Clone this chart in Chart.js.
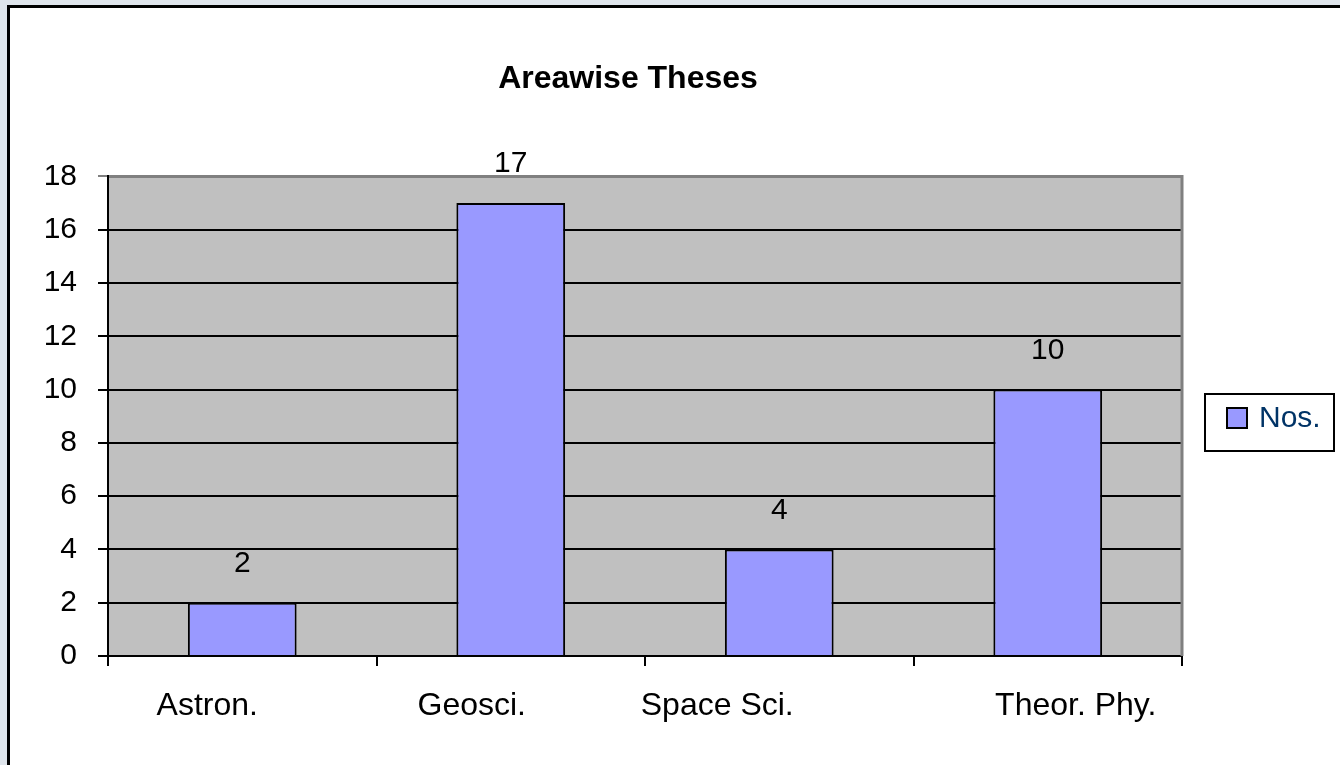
<!DOCTYPE html>
<html>
<head>
<meta charset="utf-8">
<title>Areawise Theses</title>
<script src="https://cdn.jsdelivr.net/npm/chart.js@4"></script>
<style>
    html, body {
        margin: 0;
        padding: 0;
        width: 1340px;
        height: 765px;
        overflow: hidden;
        background: #dfe5ec;
    }
    #frame {
        position: absolute;
        left: 7px;
        top: 5px;
        width: 1400px;
        height: 800px;
        border: 3px solid #000;
        background: #fff;
    }
    #areaChart {
        position: absolute;
        left: 0;
        top: 0;
    }
</style>
</head>
<body>
<div id="frame"></div>
<canvas id="areaChart" width="1340" height="765"></canvas>
<script>
// Chart data
const categories = ['Astron.', 'Geosci.', 'Space Sci.', 'Theor. Phy.'];
const nosValues = [2, 17, 4, 10];
const yTicks = [0, 2, 4, 6, 8, 10, 12, 14, 16, 18];

// the category labels in the original sit a little off the bar centres
const labelShift = [-35, -39, -62, 28];

const FONT = '"Liberation Sans", Arial, sans-serif';

// grey plot background with grey top/right edge
const plotBackground = {
    id: 'plotBackground',
    beforeDraw(chart) {
        const { ctx, chartArea: a } = chart;
        ctx.save();
        ctx.fillStyle = '#c0c0c0';
        ctx.fillRect(a.left, a.top, a.right - a.left, a.bottom - a.top);
        ctx.restore();

        // nudge the x labels
        const items = chart.scales.x.getLabelItems();
        items.forEach((it, i) => {
            if (!it._shifted) {
                it.options.translation[0] += labelShift[i] || 0;
                it._shifted = true;
            }
        });
    },
    afterDraw(chart) {
        const { ctx, chartArea: a } = chart;
        ctx.save();
        ctx.strokeStyle = '#808080';
        ctx.lineWidth = 3;
        ctx.beginPath();
        ctx.moveTo(a.left + 1, a.top);
        ctx.lineTo(a.right, a.top);
        ctx.lineTo(a.right, a.bottom);
        ctx.stroke();
        ctx.restore();
    }
};

// value labels above the bars
const valueLabels = {
    id: 'valueLabels',
    afterDatasetsDraw(chart) {
        const ctx = chart.ctx;
        const meta = chart.getDatasetMeta(0);
        ctx.save();
        ctx.font = '30px ' + FONT;
        ctx.fillStyle = '#000';
        ctx.textAlign = 'center';
        ctx.textBaseline = 'middle';
        meta.data.forEach((bar, i) => {
            ctx.fillText(String(nosValues[i]), bar.x, bar.y - 39);
        });
        ctx.restore();
    }
};

// boxed legend on the right
const boxLegend = {
    id: 'boxLegend',
    afterDraw(chart) {
        const ctx = chart.ctx;
        const ds = chart.data.datasets[0];
        ctx.save();
        ctx.fillStyle = '#fff';
        ctx.fillRect(1205, 394, 129, 57);
        ctx.strokeStyle = '#000';
        ctx.lineWidth = 2;
        ctx.strokeRect(1205, 394, 129, 57);
        ctx.fillStyle = ds.backgroundColor;
        ctx.fillRect(1227, 408, 20, 20);
        ctx.strokeRect(1227, 408, 20, 20);
        ctx.font = '30px ' + FONT;
        ctx.fillStyle = '#003366';
        ctx.textAlign = 'left';
        ctx.textBaseline = 'middle';
        ctx.fillText(ds.label, 1259, 419);
        ctx.restore();
    }
};

const ctx = document.getElementById('areaChart').getContext('2d');

new Chart(ctx, {
    type: 'bar',
    data: {
        labels: categories,
        datasets: [{
            label: 'Nos.',
            data: nosValues,
            backgroundColor: '#9999ff',
            borderColor: '#000',
            borderWidth: 2,
            categoryPercentage: 1,
            barPercentage: 0.405,
        }]
    },
    options: {
        responsive: false,
        animation: false,
        layout: {
            padding: { left: 74, right: 158, top: 0, bottom: 0 }
        },
        plugins: {
            legend: { display: false },
            tooltip: { enabled: false },
            title: {
                display: true,
                text: 'Areawise Theses',
                color: '#000',
                font: { family: FONT, size: 32, weight: 'bold' },
                padding: { top: 60, bottom: 78 },
            },
        },
        scales: {
            x: {
                afterFit(scale) { scale.height = 109; },
                grid: {
                    offset: true,
                    drawOnChartArea: false,
                    color: '#000',
                    lineWidth: 2,
                    tickLength: 10,
                },
                border: { color: '#000', width: 2 },
                ticks: {
                    color: '#000',
                    padding: 21,
                    font: { family: FONT, size: 32 },
                },
            },
            y: {
                min: 0,
                max: 18,
                afterFit(scale) { scale.width = 34; },
                afterUpdate(scale) {
                    // labels hang out left of the narrow axis box, so don't clip them
                    scale._computeLabelArea = () => undefined;
                },
                afterBuildTicks(scale) {
                    scale.ticks = yTicks.map(v => ({ value: v }));
                },
                grid: {
                    color: c => (c.tick && c.tick.value === 18) ? '#808080' : '#000',
                    lineWidth: 2,
                    tickLength: 10,
                },
                border: { color: '#000', width: 2 },
                ticks: {
                    color: '#000',
                    padding: 21,
                    font: { family: FONT, size: 30 },
                },
            },
        },
    },
    plugins: [plotBackground, valueLabels, boxLegend]
});
</script>
</body>
</html>
